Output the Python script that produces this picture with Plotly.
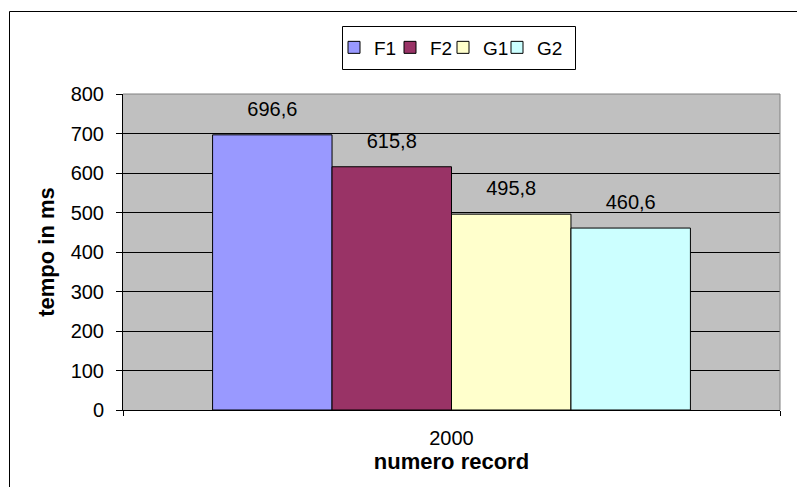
import plotly.graph_objects as go

# Data
categories = ["2000"]
series_names = ["F1", "F2", "G1", "G2"]
series_values = [[696.6], [615.8], [495.8], [460.6]]
series_colors = ["#9999FF", "#993366", "#FFFFCC", "#CCFFFF"]
y_ticks = [0, 100, 200, 300, 400, 500, 600, 700, 800]

FONT = "Arial, Liberation Sans, sans-serif"
GAP = 0.2727

W, H = 797, 487
L, R, T, B = 123, 17, 94, 77
pw, ph = W - L - R, H - T - B


def px_x(p):
    return (p - L) / pw


def px_y(p):
    return (H - B - p) / ph


# one single-entry legend per series, packed tightly in a row
legend_ids = ["legend", "legend2", "legend3", "legend4"]
legend_left = [334, 390, 443, 497]

fig = go.Figure()
for name, vals, color, lid in zip(series_names, series_values, series_colors, legend_ids):
    fig.add_trace(go.Bar(
        name=name,
        x=categories,
        y=vals,
        offsetgroup=name,
        marker=dict(color=color, line=dict(color="black", width=1)),
        cliponaxis=False,
        legend=lid,
    ))

# value labels, grouped like the bars; an invisible marker lifts each label
for name, vals in zip(series_names, series_values):
    fig.add_trace(go.Scatter(
        x=categories,
        y=vals,
        offsetgroup=name,
        mode="markers+text",
        marker=dict(size=21, opacity=0),
        text=[f"{v:.1f}".replace(".", ",") for v in vals],
        textposition="top center",
        textfont=dict(family=FONT, size=20, color="black"),
        showlegend=False,
        cliponaxis=False,
        hoverinfo="skip",
    ))

legend_style = dict(
    orientation="h",
    xanchor="left",
    y=px_y(47.5), yanchor="middle",
    bgcolor="rgba(0,0,0,0)",
    borderwidth=0,
    font=dict(family=FONT, size=19, color="black"),
    itemwidth=30,
)

fig.update_layout(
    width=W, height=H,
    margin=dict(l=L, r=R, t=T, b=B, autoexpand=False),
    paper_bgcolor="white",
    plot_bgcolor="#C0C0C0",
    separators=",.",
    barmode="group",
    bargap=GAP,
    bargroupgap=0,
    scattermode="group",
    scattergap=GAP,
    font=dict(family=FONT, size=20, color="black"),
    showlegend=True,
    **{lid: dict(x=px_x(lx), **legend_style) for lid, lx in zip(legend_ids, legend_left)},
    xaxis=dict(
        type="category",
        showline=True, linecolor="black", linewidth=1,
        ticks="outside", tickson="boundaries", ticklen=5, tickcolor="black",
        ticklabelstandoff=10,
        showgrid=False,
        tickfont=dict(family=FONT, size=20),
        title=dict(text="<b>numero record</b>", standoff=2,
                   font=dict(family=FONT, size=22)),
        automargin=False,
    ),
    yaxis=dict(
        range=[0, 800],
        tickvals=y_ticks,
        showline=True, linecolor="black", linewidth=1,
        ticks="outside", ticklen=6, tickcolor="black",
        ticklabelstandoff=8,
        showgrid=True, gridcolor="black", gridwidth=1,
        zeroline=False,
        tickfont=dict(family=FONT, size=20),
        title=dict(text="<b>tempo in ms</b>", standoff=9,
                   font=dict(family=FONT, size=22)),
        automargin=False,
    ),
    shapes=[
        # plot area border (top and right edges)
        dict(type="path", xref="paper", yref="paper",
             path="M 0,1 L 1,1 L 1,0",
             line=dict(color="#808080", width=1), layer="above"),
        # chart frame
        dict(type="rect", xref="paper", yref="paper",
             x0=px_x(9.5), x1=px_x(805), y0=px_y(495), y1=px_y(11.5),
             line=dict(color="black", width=1), fillcolor="rgba(0,0,0,0)",
             layer="below"),
        # legend box
        dict(type="rect", xref="paper", yref="paper",
             x0=px_x(342.5), x1=px_x(575.5), y0=px_y(69.5), y1=px_y(26.5),
             line=dict(color="black", width=1), fillcolor="white",
             layer="above"),
    ],
)

fig.write_html("out.html")
